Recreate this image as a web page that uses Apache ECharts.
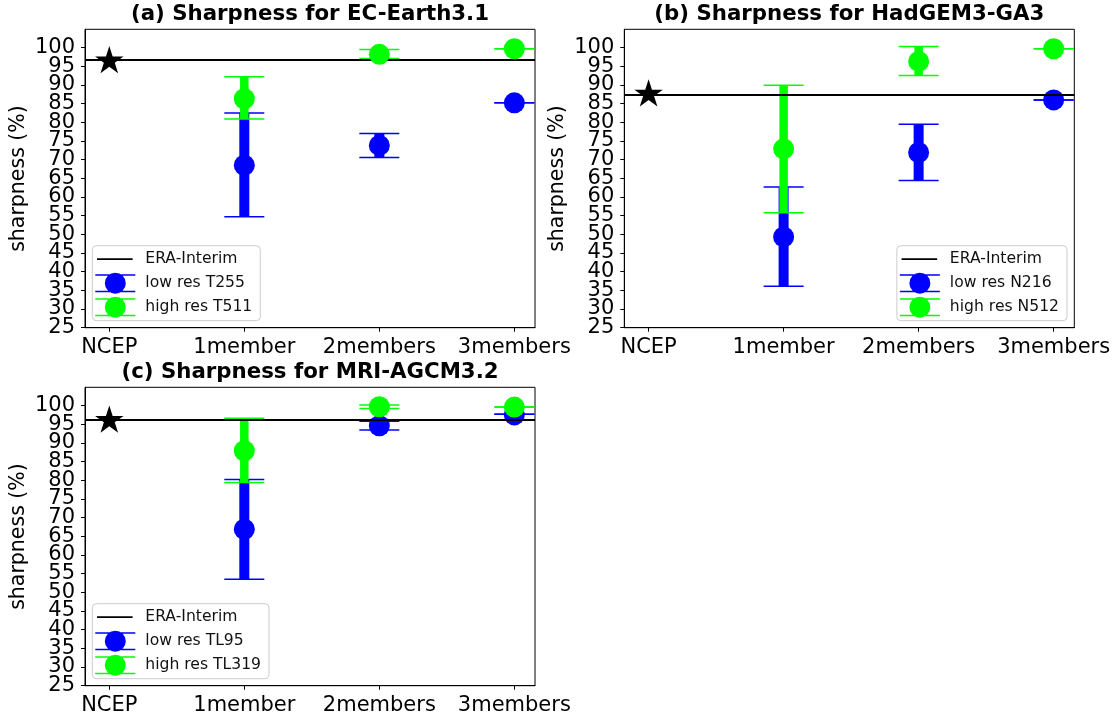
<!DOCTYPE html>
<html>
<head>
<meta charset="utf-8">
<script src="https://cdn.jsdelivr.net/npm/echarts@6/dist/echarts.min.js"></script>
<style>
html,body{margin:0;padding:0;background:#fff;}
#chart{width:1117px;height:719px;}
</style>
</head>
<body>
<div id="chart"></div>
<script>
// ---------------- data ----------------
const categories = ['NCEP', '1member', '2members', '3members'];
const yTicks = [25, 30, 35, 40, 45, 50, 55, 60, 65, 70, 75, 80, 85, 90, 95, 100];
const panelTitles = ['(a) Sharpness for EC-Earth3.1', '(b) Sharpness for HadGEM3-GA3', '(c) Sharpness for MRI-AGCM3.2'];
const lowNames = ['low res T255', 'low res N216', 'low res TL95'];
const highNames = ['high res T511', 'high res N512', 'high res TL319'];
const eraName = 'ERA-Interim';
const eraValues = [96.8, 87.4, 96.25];
const ncepValues = [96.4, 87.5, 96.0];
const memberX = [1, 2, 3];

const lowMeanA = [68.5, 73.8, 85.2];
const lowLoA   = [54.7, 70.6, 85.2];
const lowHiA   = [82.5, 77.0, 85.2];
const highMeanA = [86.3, 98.2, 99.7];
const highLoA   = [80.9, 97.1, 99.7];
const highHiA   = [92.2, 99.5, 99.7];

const lowMeanB = [49.3, 71.9, 86.0];
const lowLoB   = [36.1, 64.4, 86.0];
const lowHiB   = [62.7, 79.5, 86.0];
const highMeanB = [72.9, 96.3, 99.7];
const highLoB   = [55.8, 92.5, 99.7];
const highHiB   = [89.9, 100.3, 99.7];

const lowMeanC = [66.9, 94.6, 97.5];
const lowLoC   = [53.5, 93.5, 97.7];
const lowHiC   = [80.2, 95.8, 97.7];
const highMeanC = [87.9, 99.7, 99.6];
const highLoC   = [79.4, 99.2, 99.6];
const highHiC   = [96.6, 100.15, 99.6];

// ---------------- layout / style ----------------
const FONT = 'DejaVu Sans';
const BLUE = '#0000ff';
const GREEN = '#00ff00';
const grids = [
  {left: 85, top: 29.3, width: 450, height: 298.4},
  {left: 624.3, top: 29.3, width: 450, height: 298.4},
  {left: 85, top: 387.3, width: 450, height: 298.4}
];
const legendPos = [
  {left: 92.3, top: 245.7},
  {right: 50, top: 245.7},
  {left: 92.3, top: 603.7}
];
const panels = [
  {low: [lowMeanA, lowLoA, lowHiA], high: [highMeanA, highLoA, highHiA]},
  {low: [lowMeanB, lowLoB, lowHiB], high: [highMeanB, highLoB, highHiB]},
  {low: [lowMeanC, lowLoC, lowHiC], high: [highMeanC, highLoC, highHiC]}
];
// tick labels split over two overlaid axes so that none is auto-hidden
const yLabelsOdd = yTicks.filter((v, k) => k % 2 === 0);
const yLabelsEven = yTicks.filter((v, k) => k % 2 === 1);

function starPath() {
  const pts = [];
  for (let k = 0; k < 10; k++) {
    const r = k % 2 === 0 ? 1 : 0.381966;
    const a = -Math.PI / 2 + k * Math.PI / 5;
    pts.push((r * Math.cos(a)).toFixed(4) + ' ' + (r * Math.sin(a)).toFixed(4));
  }
  return 'path://M' + pts.join(' L') + ' Z';
}
const STAR = starPath();
// legend icons (45 x 22 box)
const ICON_LINE = 'path://M0 0 M45 22 M1.7 10.1 L37.3 10.1 L37.3 11.9 L1.7 11.9 Z';
const ICON_ERR = 'path://M0 0 M45 22 M0 1.95 L40 1.95 L40 3.45 L0 3.45 Z M0 18.55 L40 18.55 L40 20.05 L0 20.05 Z ' +
  'M9.5 11 A10.5 10.5 0 1 1 30.5 11 A10.5 10.5 0 1 1 9.5 11 Z';

function errRender(color, barW) {
  return function (params, api) {
    const x = api.value(0);
    const pLo = api.coord([x, api.value(1)]);
    const pHi = api.coord([x, api.value(2)]);
    const top = Math.min(pLo[1], pHi[1]);
    const bot = Math.max(pLo[1], pHi[1]);
    return {
      type: 'group',
      children: [
        {type: 'rect', shape: {x: pLo[0] - barW / 2, y: top, width: barW, height: bot - top}, style: {fill: color}},
        {type: 'line', shape: {x1: pLo[0] - 20, y1: pHi[1], x2: pLo[0] + 20, y2: pHi[1]}, style: {stroke: color, lineWidth: 1.5}},
        {type: 'line', shape: {x1: pLo[0] - 20, y1: pLo[1], x2: pLo[0] + 20, y2: pLo[1]}, style: {stroke: color, lineWidth: 1.5}}
      ]
    };
  };
}

const option = {
  animation: false,
  backgroundColor: '#fff',
  textStyle: {fontFamily: FONT},
  title: [], grid: [], xAxis: [], yAxis: [], legend: [], series: []
};

function yLabelAxis(i, values, withName) {
  const ax = {
    type: 'value', gridIndex: i, min: 25, max: 104.9, position: 'left', offset: 0,
    splitLine: {show: false},
    axisLine: {show: withName, onZero: false, lineStyle: {color: '#000', width: 1}},
    axisTick: {show: withName, inside: false, length: 4, lineStyle: {color: '#000'}, customValues: yTicks},
    axisLabel: {customValues: values, showMinLabel: true, showMaxLabel: true, hideOverlap: false,
      fontFamily: FONT, fontSize: 21, color: '#000', margin: 10}
  };
  if (withName) {
    Object.assign(ax, {
      name: 'sharpness (%)', nameLocation: 'middle', nameRotate: 90, nameGap: 56,
      nameTextStyle: {fontFamily: FONT, fontSize: 20.5, color: '#000'}
    });
  }
  return ax;
}

grids.forEach((g, i) => {
  const cx = g.left + g.width / 2;
  option.title.push({
    text: panelTitles[i], left: cx, top: g.top - 25.3, textAlign: 'center', padding: 0,
    textStyle: {fontFamily: FONT, fontWeight: 'bold', fontSize: 21.3, color: '#000'}
  });
  option.grid.push({left: g.left, top: g.top, width: g.width, height: g.height, show: true,
    borderColor: '#000', borderWidth: 1, backgroundColor: 'transparent', containLabel: false});
  option.xAxis.push({
    type: 'value', gridIndex: i, min: -0.18, max: 3.153,
    splitLine: {show: false},
    axisLine: {show: true, onZero: false, lineStyle: {color: '#000', width: 1}},
    axisTick: {show: true, inside: false, length: 4, lineStyle: {color: '#000'}, customValues: [0, 1, 2, 3]},
    axisLabel: {customValues: [0, 1, 2, 3], formatter: v => categories[Math.round(v)],
      showMinLabel: true, showMaxLabel: true, hideOverlap: false,
      fontFamily: FONT, fontSize: 21, color: '#000', margin: 9}
  });
  option.yAxis[i] = yLabelAxis(i, yLabelsOdd, true);
  option.yAxis[i + 3] = yLabelAxis(i, yLabelsEven, false);
  option.legend.push(Object.assign({
    orient: 'vertical', selectedMode: false,
    itemWidth: 45, itemHeight: 22, itemGap: 2,
    padding: [2.5, 8, 2.5, 3],
    backgroundColor: 'rgba(255,255,255,0.8)', borderColor: '#cccccc', borderWidth: 1, borderRadius: 4,
    textStyle: {fontFamily: FONT, fontSize: 15.6, color: '#111'},
    data: [
      {name: eraName, icon: ICON_LINE},
      {name: lowNames[i], icon: ICON_ERR},
      {name: highNames[i], icon: ICON_ERR}
    ]
  }, legendPos[i]));

  const p = panels[i];
  // ERA-Interim reference line
  option.series.push({
    type: 'line', name: eraName, xAxisIndex: i, yAxisIndex: i, data: [], color: '#000', z: 1,
    lineStyle: {color: '#000', width: 2}, symbol: 'none',
    markLine: {silent: true, symbol: 'none', label: {show: false}, animation: false,
      lineStyle: {color: '#000', width: 2, type: 'solid'}, emphasis: {disabled: true},
      data: [{yAxis: eraValues[i]}]}
  });
  [[lowNames[i], p.low, BLUE, 2, 10], [highNames[i], p.high, GREEN, 4, 8.5]].forEach(([nm, arr, col, z, bw]) => {
    option.series.push({
      type: 'scatter', name: nm, xAxisIndex: i, yAxisIndex: i, color: col, z: z + 1,
      symbol: 'circle', symbolSize: 21, itemStyle: {color: col, opacity: 1}, silent: true,
      emphasis: {disabled: true},
      data: memberX.map((x, k) => [x, arr[0][k]])
    });
    option.series.push({
      type: 'custom', name: nm, xAxisIndex: i, yAxisIndex: i, color: col, z: z, silent: true,
      renderItem: errRender(col, bw), encode: {x: 0, y: [1, 2]},
      data: memberX.map((x, k) => [x, arr[1][k], arr[2][k]])
    });
  });
  option.series.push({
    type: 'scatter', name: 'NCEP', xAxisIndex: i, yAxisIndex: i, z: 7, silent: true,
    symbol: STAR, symbolSize: [28.5, 27.1], symbolKeepAspect: false, symbolOffset: [0, -1.4],
    itemStyle: {color: '#000', opacity: 1}, emphasis: {disabled: true},
    data: [[0, ncepValues[i]]]
  });
});

const chart = echarts.init(document.getElementById('chart'), null, {renderer: 'canvas'});
chart.setOption(option);
</script>
</body>
</html>
